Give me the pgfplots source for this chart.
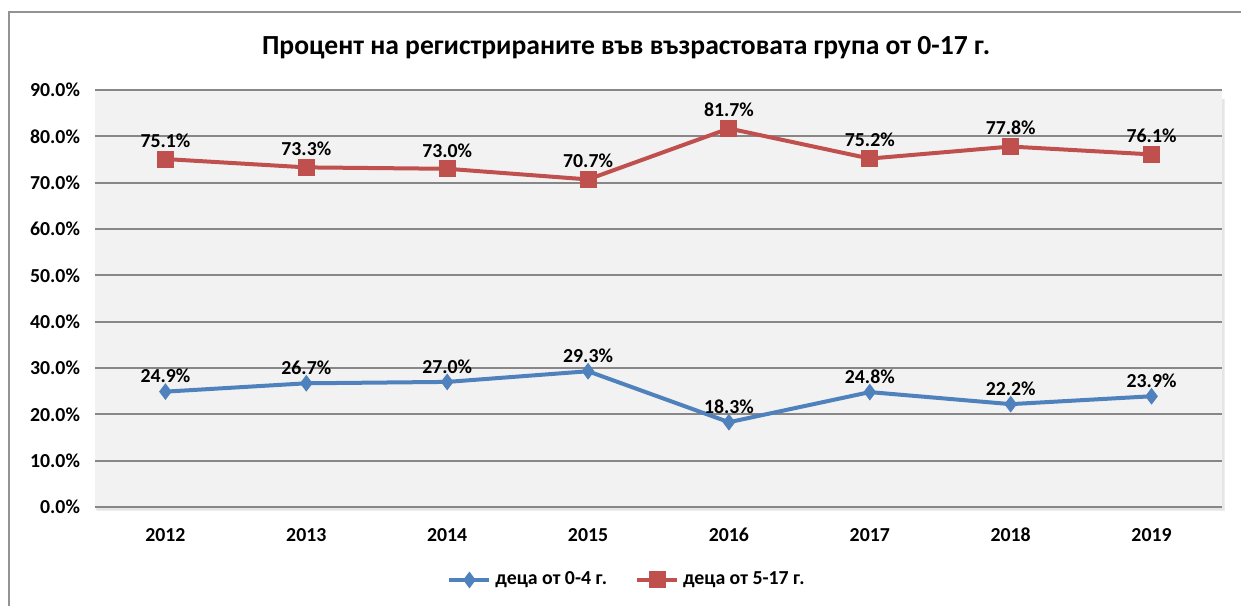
\documentclass[border=0pt]{standalone}
\usepackage{fontspec}
\setmainfont{Carlito}
\usepackage{pgfplots}
\pgfplotsset{compat=1.18}
\definecolor{sblue}{HTML}{4F81BD}
\definecolor{sred}{HTML}{C0504D}
\definecolor{gridc}{HTML}{878787}
\definecolor{bgc}{HTML}{F2F2F2}
\begin{document}
\begin{tikzpicture}
\path[use as bounding box] (0pt,0pt) rectangle (620.5pt,303pt);
\draw[gridc!90,line width=1pt] (4.5pt,0pt) -- (4.5pt,297pt) -- (620.5pt,297pt);
\node[font=\fontsize{13.8}{16}\selectfont\bfseries] at (313pt,279pt) {Процент на регистрираните във възрастовата група от 0-17 г.};
\fill[black!7] (48.5pt,47.5pt) rectangle (612.5pt,253.5pt);
\fill[black!10] (48pt,48pt) rectangle (612pt,253.5pt);
\begin{axis}[
  at={(47.5pt,49.5pt)}, anchor=south west,
  scale only axis, width=563.5pt, height=208.5pt,
  xmin=-0.5, xmax=7.5, ymin=0, ymax=90,
  xtick={0,...,7},
  xticklabels={2012,2013,2014,2015,2016,2017,2018,2019},
  ytick={0,10,...,90},
  yticklabel={\pgfmathprintnumber[fixed,fixed zerofill,precision=1]{\tick}\%},
  /pgf/number format/assume math mode=true,
  tick label style={font=\fontsize{9.9}{11}\selectfont\bfseries},
  yticklabel style={xshift=-4pt},
  xticklabel style={yshift=-7pt},
  major tick length=0pt,
  axis line style={draw=none},
  axis background/.style={fill=bgc},
  ymajorgrids, grid style={gridc,line width=1pt},
  clip=false,
  nodes near coords={\pgfmathprintnumber[fixed,fixed zerofill,precision=1]{\pgfplotspointmeta}\%},
  every node near coord/.append style={font=\fontsize{9.9}{11}\selectfont\bfseries,black,inner sep=1pt},
  legend style={at={(0.473,-0.175)}, anchor=center, draw=none, fill=none,
    font=\fontsize{9.9}{11}\selectfont\bfseries, legend columns=2,
    /tikz/every even column/.append style={column sep=12pt}},
  legend image code/.code={\draw[#1] (0pt,0pt) -- (20pt,0pt); \path[#1,mark repeat=1] plot coordinates {(10pt,0pt)};},
]
\addplot[sblue, line width=2pt, mark=diamond*, mark size=3.8pt, mark options={solid,line width=0.5pt},
  every node near coord/.append style={yshift=3pt}] coordinates {
(0,24.9) (1,26.7) (2,27.0) (3,29.3) (4,18.3) (5,24.8) (6,22.2) (7,23.9)};
\addlegendentry{деца от 0-4 г.}
\addplot[sred, line width=2pt, mark=square*, mark size=4pt, mark options={solid,line width=0.5pt},
  every node near coord/.append style={yshift=4.5pt}] coordinates {
(0,75.1) (1,73.3) (2,73.0) (3,70.7) (4,81.7) (5,75.2) (6,77.8) (7,76.1)};
\addlegendentry{деца от 5-17 г.}
\end{axis}
\end{tikzpicture}
\end{document}
